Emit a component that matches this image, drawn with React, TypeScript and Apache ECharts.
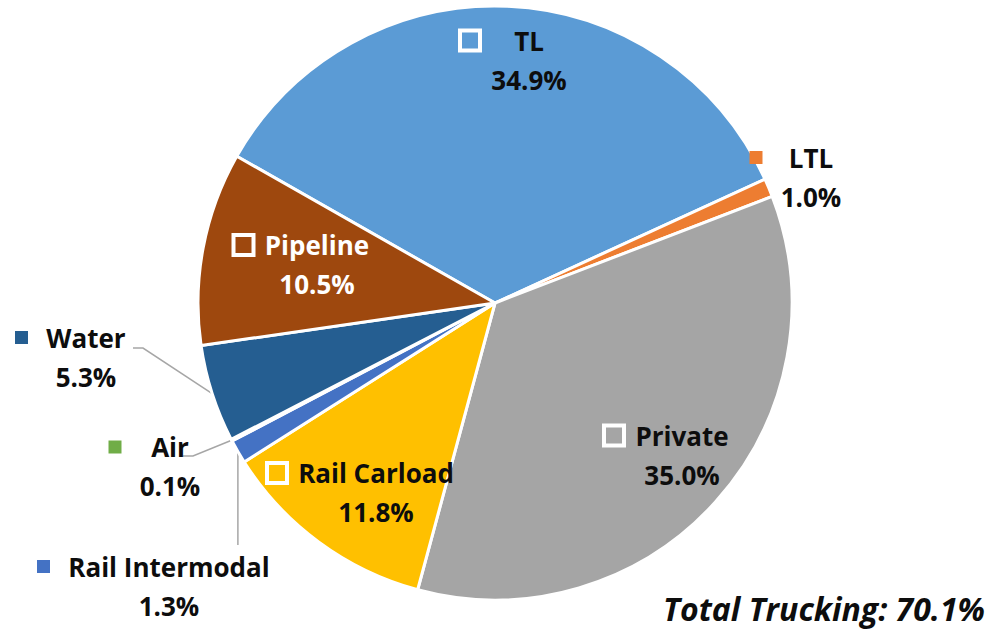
import React, { useEffect, useRef } from "react";
import * as echarts from "echarts";

// ---- data ----
const categories = ["TL", "LTL", "Private", "Rail Carload", "Rail Intermodal", "Air", "Water", "Pipeline"];
const shares = [34.9, 1.0, 35.0, 11.8, 1.3, 0.1, 5.3, 10.5];
const totalLabel = "Total Trucking: 70.1%";

// ---- styles ----
const colors = ["#5B9BD5", "#ED7D31", "#A5A5A5", "#FFC000", "#4472C4", "#70AD47", "#255E91", "#9E480E"];
const insideLabel = [true, false, true, true, false, false, false, true];
const textColors = ["#0d0d0d", "#0d0d0d", "#0d0d0d", "#0d0d0d", "#0d0d0d", "#0d0d0d", "#0d0d0d", "#ffffff"];
const hasLeader = [false, false, false, false, true, true, true, false];

// ---- layout ----
const FONT = '"Open Sans", sans-serif';
const FS = 26;
const LH = 39;
const CX = 495;
const CY = 303;
const R = 297;
const START = 150.4;
// text column centre x, block middle y
const labelAnchors: number[][] = [
  [529, 60],
  [811, 177],
  [682, 455],
  [376, 492.5],
  [169, 586],
  [170, 466.5],
  [86, 357],
  [317, 264.5],
];
const leaderBends: Record<number, (number | null)[][]> = {
  4: [[null, 545]],
  5: [[193, 456], [183, 456]],
  6: [[143, 348], [133, 348]],
};

function keySize(i: number) {
  return insideLabel[i] ? { kw: 16, gap: 12 } : { kw: 13, gap: 17 };
}

export default function App() {
  const ref = useRef<HTMLDivElement>(null);
  useEffect(() => {
    const chart = echarts.init(ref.current!, null, { renderer: "svg" });
    const total = shares.reduce((a, b) => a + b, 0);
    const ctx = document.createElement("canvas").getContext("2d")!;
    ctx.font = `bold ${FS}px ${FONT}`;

    const edgePoint = (i: number) => {
      let acc = 0;
      for (let j = 0; j < i; j++) acc += shares[j];
      const a0 = START - (acc / total) * 360;
      const mid = a0 - ((shares[i] / total) * 360) / 2;
      const rad = (mid * Math.PI) / 180;
      return [CX + R * Math.cos(rad), CY - R * Math.sin(rad)];
    };

    const data = categories.map((name, i) => {
      const inside = insideLabel[i];
      const pct = shares[i].toFixed(1) + "%";
      const W = Math.ceil(Math.max(ctx.measureText(name).width, ctx.measureText(pct).width)) + 2;
      const { kw, gap } = keySize(i);
      const txt = {
        width: W,
        align: "center",
        fontSize: FS,
        fontWeight: "bold",
        fontFamily: FONT,
        color: textColors[i],
        lineHeight: LH,
      };
      return {
        name,
        value: shares[i],
        itemStyle: { color: colors[i] },
        label: {
          show: true,
          position: inside ? "inside" : "outside",
          width: kw + gap + W,
          overflow: "none",
          formatter: `{k|}{g|}{n|${name}}\n{kp|}{g|}{v|${pct}}`,
          rich: {
            k: inside
              ? { width: kw, height: kw, align: "left", backgroundColor: colors[i], borderColor: "#ffffff", borderWidth: 4 }
              : { width: kw, height: kw, align: "left", backgroundColor: colors[i] },
            kp: { width: kw, height: kw, align: "left" },
            g: { width: gap, align: "left" },
            n: txt,
            v: txt,
          },
        },
        labelLine: {
          show: hasLeader[i],
          lineStyle: { color: "#A6A6A6", width: 1.5 },
        },
      };
    });

    chart.setOption({
      animation: false,
      backgroundColor: "#ffffff",
      title: {
        text: totalLabel,
        right: 7,
        top: 592,
        padding: 0,
        textStyle: {
          fontFamily: FONT,
          fontSize: 32,
          fontWeight: "bold",
          fontStyle: "italic",
          color: "#0d0d0d",
        },
      },
      series: [
        {
          type: "pie",
          center: [CX, CY],
          radius: [0, R],
          startAngle: START,
          clockwise: true,
          avoidLabelOverlap: false,
          itemStyle: { borderColor: "#ffffff", borderWidth: 3 },
          emphasis: { disabled: true },
          data,
          labelLayout: (params: any) => {
            const i = params.dataIndex;
            const { kw, gap } = keySize(i);
            const [tx, ty] = labelAnchors[i];
            const res: any = {
              x: tx - (kw + gap) / 2,
              y: ty,
              align: "center",
              verticalAlign: "middle",
            };
            if (hasLeader[i]) {
              const p0 = edgePoint(i);
              const pts = [p0].concat(
                (leaderBends[i] || []).map((p) => [p[0] == null ? p0[0] : (p[0] as number), p[1] as number])
              );
              res.labelLinePoints = pts;
            }
            return res;
          },
        },
      ],
    });
    return () => chart.dispose();
  }, []);
  return <div ref={ref} style={{ position: "absolute", left: 0, top: 0, width: 992, height: 635 }} />;
}
